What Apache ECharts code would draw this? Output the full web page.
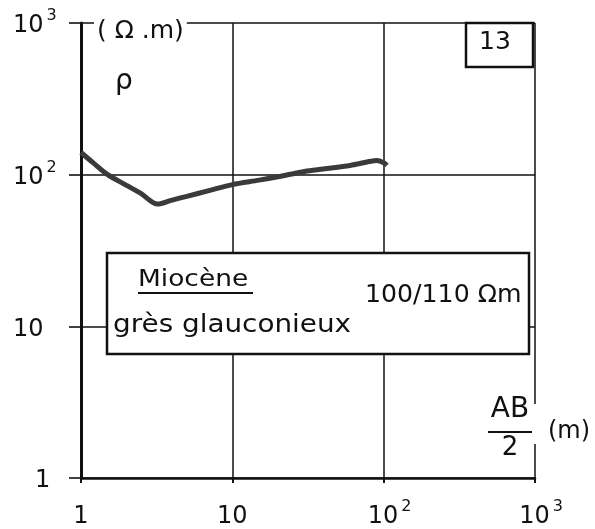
<!DOCTYPE html>
<html>
<head>
<meta charset="utf-8">
<style>
  html, body { margin: 0; padding: 0; background: #ffffff; }
  #chart { width: 595px; height: 529px; }
</style>
<script src="https://cdn.jsdelivr.net/npm/echarts@6.0.0/dist/echarts.min.js"></script>
</head>
<body>
<div id="chart"></div>
<script>
// Electrical sounding: apparent resistivity against half electrode spacing AB/2
const spacing     = [1, 1.2, 1.5, 2, 2.5, 3.2, 4, 5, 7, 10, 15, 20, 30, 40, 60, 80, 90, 100, 105];
const resistivity = [140, 120, 100, 85, 75, 64, 68, 72, 78.5, 86, 92, 97, 105, 109, 115, 122, 124, 120, 115];

// Decade tick labels: mantissa and exponent
const tickValues = [1, 10, 100, 1000];
const tickBase   = ['1', '10', '10', '10'];
const tickExp    = ['', '', '2', '3'];

// Annotation texts
const unitY      = '( Ω .m)';
const symbolY    = 'ρ';
const unitX      = '(m)';
const fracTop    = 'AB';
const fracBottom = '2';
const layerTitle = 'Miocène';
const layerRock  = 'grès glauconieux';
const layerValue = '100/110 Ωm';
const sheetNo    = '13';

const FONT = 'DejaVu Sans';
const INK = '#111111';

function tickIndex(v) {
  return tickValues.findIndex(t => Math.abs(Math.log10(t) - Math.log10(v)) < 1e-6);
}
function xLabel(v) {
  const i = tickIndex(v);
  if (i < 0) return '';
  return tickExp[i] ? '{bp|' + tickBase[i] + '}{s|' + tickExp[i] + '}' : '{b|' + tickBase[i] + '}';
}
function yLabel(v) {
  const i = tickIndex(v);
  if (i < 0) return '';
  if (tickExp[i]) return '{b|' + tickBase[i] + '}{s|' + tickExp[i] + '}';
  return tickBase[i].length === 1 ? '{one|' + tickBase[i] + '}' : '{b|' + tickBase[i] + '}';
}
const richDigits = {
  b:   { fontFamily: FONT, fontSize: 24, color: INK, lineHeight: 30, verticalAlign: 'bottom' },
  bp:  { fontFamily: FONT, fontSize: 24, color: INK, lineHeight: 30, verticalAlign: 'bottom', padding: [0, 0, 0, 12] },
  one: { fontFamily: FONT, fontSize: 24, color: INK, lineHeight: 30, verticalAlign: 'bottom', padding: [0, 0, 0, 22] },
  s:   { fontFamily: FONT, fontSize: 16, color: INK, lineHeight: 18, verticalAlign: 'top', padding: [0, 0, 0, 3] }
};

const chart = echarts.init(document.getElementById('chart'), null, { renderer: 'canvas' });

chart.setOption({
  backgroundColor: '#ffffff',
  animation: false,
  grid: { left: 81, right: 60, top: 23, bottom: 50, containLabel: false },
  xAxis: {
    type: 'log', logBase: 10, min: 1, max: 1000,
    axisLine: { show: true, onZero: false, lineStyle: { color: INK, width: 2.5 } },
    axisTick: { show: true, inside: false, length: 5, lineStyle: { color: INK, width: 2 } },
    minorTick: { show: false },
    splitLine: { show: true, lineStyle: { color: INK, width: 1.5 } },
    axisLabel: { margin: 21, formatter: xLabel, rich: richDigits, color: INK }
  },
  yAxis: {
    type: 'log', logBase: 10, min: 1, max: 1000,
    axisLine: { show: true, onZero: false, lineStyle: { color: INK, width: 3 } },
    axisTick: { show: true, inside: false, length: 12, lineStyle: { color: INK, width: 1.6 } },
    minorTick: { show: false },
    splitLine: { show: true, lineStyle: { color: INK, width: 1.5 } },
    axisLabel: { margin: 68, align: 'left', formatter: yLabel, rich: richDigits, color: INK }
  },
  series: [{
    type: 'line',
    data: spacing.map((x, i) => [x, resistivity[i]]),
    smooth: 0.3,
    showSymbol: false,
    lineStyle: { color: '#3a3a3a', width: 5 },
    z: 5
  }],
  graphic: [
    // Unit label on the resistivity axis, masking the top frame behind it
    { type: 'text', x: 94, y: 31, z: 50,
      style: { text: unitY, font: '25px "' + FONT + '"', fill: INK, verticalAlign: 'middle',
               backgroundColor: '#ffffff', padding: [0, 3, 0, 3] } },
    { type: 'text', x: 124, y: 82, z: 50,
      style: { text: symbolY, font: '28px "' + FONT + '"', fill: INK, align: 'center', verticalAlign: 'middle' } },
    // Sheet number box
    { type: 'rect', shape: { x: 466, y: 23, width: 67, height: 44 }, z: 50,
      style: { fill: '#ffffff', stroke: INK, lineWidth: 2.5 } },
    { type: 'text', x: 495, y: 42, z: 51,
      style: { text: sheetNo, font: '25px "' + FONT + '"', fill: INK, align: 'center', verticalAlign: 'middle' } },
    // Layer description box
    { type: 'rect', shape: { x: 107, y: 253, width: 422, height: 101 }, z: 50,
      style: { fill: '#ffffff', stroke: INK, lineWidth: 2.5 } },
    { type: 'text', x: 138, y: 280, scaleX: 1.15, z: 51,
      style: { text: layerTitle, font: '23px "' + FONT + '"', fill: INK, verticalAlign: 'middle' } },
    { type: 'line', shape: { x1: 138, y1: 293, x2: 253, y2: 293 }, z: 51,
      style: { stroke: INK, lineWidth: 2 } },
    { type: 'text', x: 113, y: 326, scaleX: 1.16, z: 51,
      style: { text: layerRock, font: '24px "' + FONT + '"', fill: INK, verticalAlign: 'middle' } },
    { type: 'text', x: 365, y: 296, scaleX: 1.05, z: 51,
      style: { text: layerValue, font: '24px "' + FONT + '"', fill: INK, verticalAlign: 'middle' } },
    // Spacing axis title AB/2 (m), with a break in the right frame
    { type: 'rect', shape: { x: 532, y: 404, width: 7, height: 40 }, z: 50,
      style: { fill: '#ffffff' } },
    { type: 'text', x: 510, y: 410, z: 51,
      style: { text: fracTop, font: '28px "' + FONT + '"', fill: INK, align: 'center', verticalAlign: 'middle' } },
    { type: 'line', shape: { x1: 488, y1: 432, x2: 532, y2: 432 }, z: 51,
      style: { stroke: INK, lineWidth: 2 } },
    { type: 'text', x: 510, y: 448, z: 51,
      style: { text: fracBottom, font: '26px "' + FONT + '"', fill: INK, align: 'center', verticalAlign: 'middle' } },
    { type: 'text', x: 569, y: 432, z: 51,
      style: { text: unitX, font: '24px "' + FONT + '"', fill: INK, align: 'center', verticalAlign: 'middle' } }
  ]
});
</script>
</body>
</html>
